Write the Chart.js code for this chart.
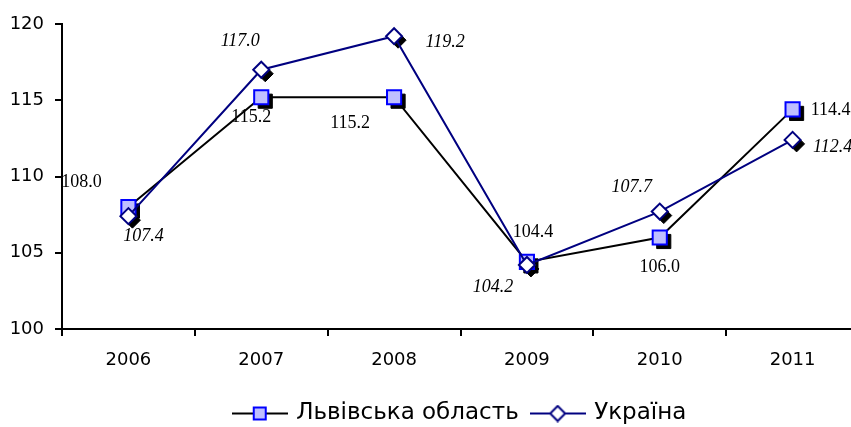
<!DOCTYPE html>
<html>
<head>
<meta charset="utf-8">
<script src="https://cdn.jsdelivr.net/npm/chart.js@4/dist/chart.umd.min.js"></script>
<style>
  html, body { margin: 0; padding: 0; background: #fff; overflow: hidden; }
  #wrap { width: 851px; height: 427px; overflow: hidden; }
</style>
</head>
<body>
<div id="wrap"><canvas id="chart" width="871" height="427"></canvas></div>
<script>
// дані з графіка
const years = ['2006', '2007', '2008', '2009', '2010', '2011'];
const lvivValues = [108.0, 115.2, 115.2, 104.4, 106.0, 114.4];
const ukraineValues = [107.4, 117.0, 119.2, 104.2, 107.7, 112.4];
const seriesNames = ['Львівська область', 'Україна'];
const yTicks = [100, 105, 110, 115, 120];

// зміщення підписів відносно точок (px)
const lvivLabelOffsets = [[-47, -25], [-10, 20], [-44, 26], [6, -30], [0, 30], [38, 1]];
const ukraineLabelOffsets = [[15, 20], [-21, -28], [51, 6], [-34, 22], [-28, -24], [40, 7]];

const LVIV_LINE = '#000000';
const LVIV_FILL = '#bfbfff';
const LVIV_BORDER = '#0000ff';
const UKR_LINE = '#000080';
const AXIS_FONT = '"DejaVu Sans", Verdana, sans-serif';

// іконка легенди: лінія з маркером посередині
function legendIcon(lineColor, marker, fill, border) {
    const c = document.createElement('canvas');
    c.width = 56;
    c.height = 18;
    const g = c.getContext('2d');
    g.strokeStyle = lineColor;
    g.lineWidth = 2;
    g.beginPath();
    g.moveTo(0, 9);
    g.lineTo(56, 9);
    g.stroke();
    g.fillStyle = fill;
    g.strokeStyle = border;
    g.lineWidth = 2;
    g.beginPath();
    if (marker === 'rect') {
        g.rect(22, 3, 12, 12);
    } else {
        g.moveTo(28, 1.5);
        g.lineTo(35.5, 9);
        g.lineTo(28, 16.5);
        g.lineTo(20.5, 9);
        g.closePath();
    }
    g.fill();
    g.stroke();
    return c;
}

// тінь під маркерами
const shadowPlugin = {
    id: 'markerShadow',
    beforeDatasetDraw(chart, args) {
        if (chart.data.datasets[args.index].isShadow) {
            chart.ctx.save();
            chart.ctx.translate(4, 4);
        }
    },
    afterDatasetDraw(chart, args) {
        if (chart.data.datasets[args.index].isShadow) {
            chart.ctx.restore();
        }
    }
};

// підписи значень
const valueLabels = [
    { index: 0, values: lvivValues, offsets: lvivLabelOffsets, italic: false },
    { index: 1, values: ukraineValues, offsets: ukraineLabelOffsets, italic: true }
];

const labelPlugin = {
    id: 'valueLabels',
    afterDatasetsDraw(chart) {
        const ctx = chart.ctx;
        ctx.save();
        ctx.fillStyle = '#000';
        ctx.textAlign = 'center';
        ctx.textBaseline = 'middle';
        valueLabels.forEach(set => {
            ctx.font = (set.italic ? 'italic ' : '') + '18px "Liberation Serif", "Times New Roman", serif';
            const meta = chart.getDatasetMeta(set.index);
            meta.data.forEach((pt, i) => {
                ctx.fillText(set.values[i].toFixed(1), pt.x + set.offsets[i][0], pt.y + set.offsets[i][1]);
            });
        });
        ctx.restore();
    }
};

const ctx = document.getElementById('chart').getContext('2d');

new Chart(ctx, {
    type: 'line',
    data: {
        labels: years,
        datasets: [
            {
                label: seriesNames[0],
                data: lvivValues,
                borderColor: LVIV_LINE,
                borderWidth: 2,
                pointStyle: 'rect',
                pointRadius: 10,
                pointBackgroundColor: LVIV_FILL,
                pointBorderColor: LVIV_BORDER,
                pointBorderWidth: 2,
                tension: 0,
                order: 1
            },
            {
                label: seriesNames[1],
                data: ukraineValues,
                borderColor: UKR_LINE,
                borderWidth: 2,
                pointStyle: 'rectRot',
                pointRadius: 8,
                pointBackgroundColor: '#ffffff',
                pointBorderColor: UKR_LINE,
                pointBorderWidth: 2,
                tension: 0,
                order: 0
            },
            {
                label: 'shadow-lviv',
                isShadow: true,
                data: lvivValues,
                showLine: false,
                pointStyle: 'rect',
                pointRadius: 10,
                pointBackgroundColor: '#000',
                pointBorderColor: '#000',
                pointBorderWidth: 1,
                order: 3
            },
            {
                label: 'shadow-ukr',
                isShadow: true,
                data: ukraineValues,
                showLine: false,
                pointStyle: 'rectRot',
                pointRadius: 8,
                pointBackgroundColor: '#000',
                pointBorderColor: '#000',
                pointBorderWidth: 1,
                order: 2
            }
        ]
    },
    options: {
        responsive: false,
        animation: false,
        layout: {
            padding: { top: 24, right: 0, bottom: -8, left: 0 }
        },
        scales: {
            x: {
                offset: true,
                grid: {
                    offset: true,
                    drawOnChartArea: false,
                    drawTicks: true,
                    tickLength: 7,
                    lineWidth: 2,
                    color: '#000'
                },
                border: { display: true, color: '#000', width: 2 },
                ticks: {
                    color: '#000',
                    padding: 14,
                    maxRotation: 0,
                    font: { family: AXIS_FONT, size: 18 }
                },
                afterFit(scale) { scale.height = 59; }
            },
            y: {
                min: yTicks[0],
                max: yTicks[yTicks.length - 1],
                afterBuildTicks(scale) {
                    scale.ticks = yTicks.map(v => ({ value: v }));
                },
                grid: {
                    drawOnChartArea: false,
                    drawTicks: true,
                    tickLength: 7,
                    lineWidth: 2,
                    color: '#000'
                },
                border: { display: true, color: '#000', width: 2 },
                ticks: {
                    color: '#000',
                    padding: 11,
                    font: { family: AXIS_FONT, size: 18 }
                },
                afterFit(scale) { scale.width = 62; }
            }
        },
        plugins: {
            tooltip: { enabled: false },
            legend: {
                position: 'bottom',
                fullSize: false,
                labels: {
                    usePointStyle: true,
                    pointStyleWidth: 50,
                    padding: 14,
                    color: '#000',
                    font: { family: AXIS_FONT, size: 23 },
                    generateLabels: () => [
                        { text: seriesNames[0], pointStyle: legendIcon(LVIV_LINE, 'rect', LVIV_FILL, LVIV_BORDER), lineWidth: 0, datasetIndex: 0 },
                        { text: seriesNames[1], pointStyle: legendIcon(UKR_LINE, 'diamond', '#ffffff', UKR_LINE), lineWidth: 0, datasetIndex: 1 }
                    ]
                }
            }
        }
    },
    plugins: [shadowPlugin, labelPlugin]
});
</script>
</body>
</html>
